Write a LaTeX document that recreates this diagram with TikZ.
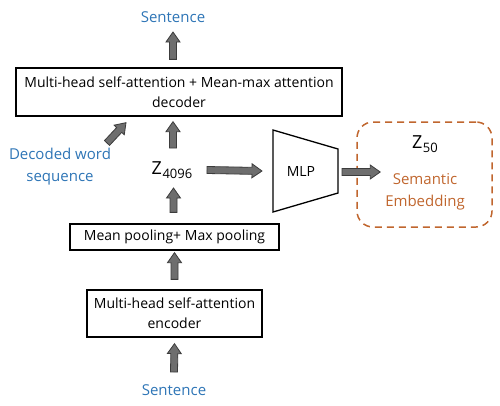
\documentclass[tikz,border=0pt]{standalone}
\usepackage{fontspec}
\setmainfont{Open Sans}
\usetikzlibrary{calc}
\definecolor{txtblue}{HTML}{2E75B6}
\definecolor{txtbrown}{HTML}{C0662E}
\definecolor{arrfill}{HTML}{6E6E6E}
\definecolor{arrline}{HTML}{3C3C3C}
\tikzset{
  box/.style={draw=black, line width=1.3pt, inner sep=0pt, align=center, font=\fontsize{14}{20}\selectfont},
  bluetxt/.style={text=txtblue, inner sep=0pt, align=center, font=\fontsize{15}{22}\selectfont},
  fatarr/.style={fill=arrfill, draw=arrline, line width=0.8pt, line join=miter},
}
\newcommand\fatarrow[2]{%
  \coordinate (faA) at #1;
  \coordinate (faB) at #2;
  \coordinate (faC) at ($(faB)!10pt!(faA)$);
  \draw[fatarr] ($(faA)!3.5pt!90:(faB)$) -- ($(faC)!3.5pt!90:(faB)$) -- ($(faC)!7pt!90:(faB)$) -- (faB)
     -- ($(faC)!7pt!-90:(faB)$) -- ($(faC)!3.5pt!-90:(faB)$) -- ($(faA)!3.5pt!-90:(faB)$) -- cycle;
}
\begin{document}
\begin{tikzpicture}[x=1pt,y=-1pt]
\useasboundingbox (0,0) rectangle (500,405);
% nodes
\node[bluetxt] (sentTop) at (173,17) {Sentence};
\node[box, minimum width=326pt, minimum height=48pt] (dec) at (179,92)
  {Multi-head self-attention + Mean-max attention\\decoder};
\node[bluetxt] (decoded) at (60,167) {Decoded word\\sequence};
\node[inner sep=0pt, font=\fontsize{18}{20}\selectfont] (z) at (172,170)
  {Z\kern0.5pt\raisebox{-4pt}{\fontsize{13}{13}\selectfont 4096}};
\node[box, minimum width=209pt, minimum height=26pt] (pool) at (174.5,237) {Mean pooling+ Max pooling};
\node[box, minimum width=175pt, minimum height=47pt] (enc) at (174.5,313.5)
  {Multi-head self-attention\\encoder};
\node[bluetxt] (sentBot) at (174,390) {Sentence};
% MLP trapezoid
\coordinate (m1) at (273,130);
\coordinate (m2) at (338,149);
\coordinate (m3) at (338,193);
\coordinate (m4) at (273,212);
\draw[line width=1.3pt, line join=miter] (m1) -- (m2) -- (m3) -- (m4) -- cycle;
\node[inner sep=0pt, font=\fontsize{14}{20}\selectfont] (mlp) at (301,171) {MLP};
% semantic embedding
\node[draw=txtbrown, line width=1.5pt, dash pattern=on 7pt off 5pt, rounded corners=16pt,
  minimum width=135pt, minimum height=105pt, inner sep=0pt] (sem) at (424.5,174.5) {};
\node[inner sep=0pt, font=\fontsize{18}{20}\selectfont] (z50) at (425,144)
  {Z\kern0.5pt\raisebox{-4pt}{\fontsize{13}{13}\selectfont 50}};
\node[inner sep=0pt, text=txtbrown, align=center, font=\fontsize{15}{22}\selectfont] (semtxt) at (425,192)
  {Semantic\\Embedding};
% arrows
\fatarrow{($(sentBot.center)+(0,-18)$)}{($(enc.south)+(0,6)$)}
\fatarrow{($(enc.north)+(0,-10)$)}{($(pool.south)+(0,2)$)}
\fatarrow{($(pool.north)+(-1,-11)$)}{($(z.center)+(1.5,18)$)}
\fatarrow{($(z.center)+(1,-22)$)}{($(dec.south)+(-6,5)$)}
\fatarrow{($(dec.north)+(-6,-8)$)}{($(sentTop.center)+(0,15)$)}
\fatarrow{($(decoded.center)+(47,-24)$)}{($(dec.south)+(-53,6)$)}
\fatarrow{($(z.center)+(35,0)$)}{($(m1)!0.5!(m4)+(-11,0)$)}
\fatarrow{($(m2)!0.5!(m3)+(4,1)$)}{($(sem.west)+(24,-2.5)$)}
\end{tikzpicture}
\end{document}
